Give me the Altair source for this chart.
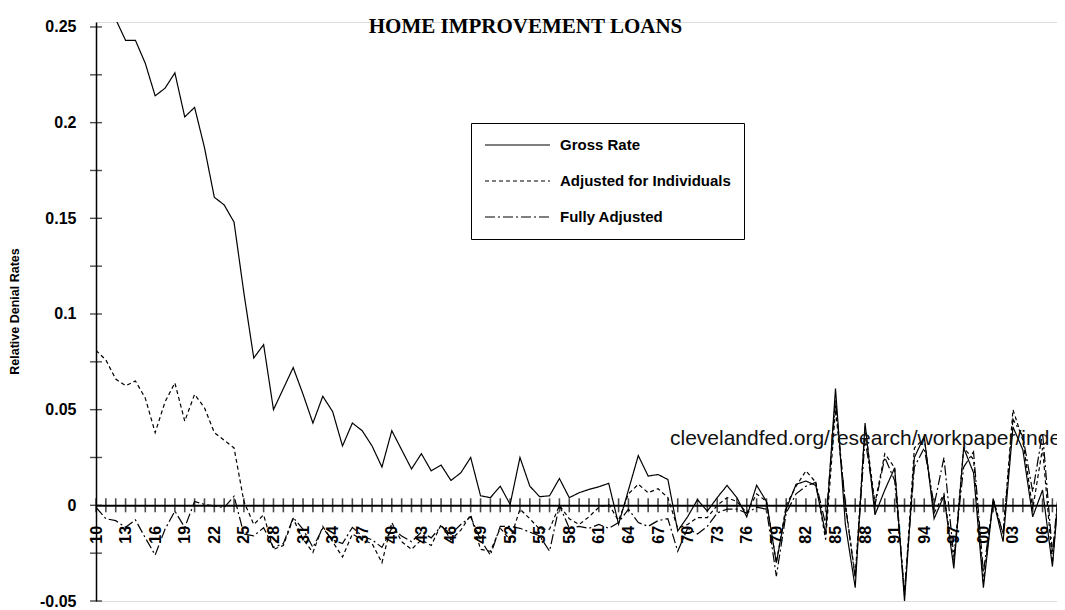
import altair as alt
import pandas as pd

# ---- data ----
x_vals = list(range(10, 109))

gross_rate = [
    0.285, 0.268, 0.254, 0.243, 0.243, 0.231, 0.214, 0.218, 0.226, 0.203,   # 10-19
    0.208, 0.187, 0.161, 0.157, 0.148, 0.111, 0.077, 0.084, 0.050, 0.061,   # 20-29
    0.072, 0.058, 0.043, 0.057, 0.049, 0.031, 0.043, 0.039, 0.031, 0.020,   # 30-39
    0.039, 0.029, 0.019, 0.027, 0.018, 0.021, 0.013, 0.017, 0.025, 0.005,   # 40-49
    0.004, 0.010, 0.0005, 0.025, 0.010, 0.0045, 0.005, 0.014, 0.004, 0.0066,  # 50-59
    0.0083, 0.0097, 0.0115, -0.0099, 0.008, 0.026, 0.0153, 0.0161, 0.0135, -0.0134,  # 60-69
    -0.006, 0.003, -0.003, 0.004, 0.0104, 0.004, -0.006, 0.0105, 0.002, -0.030,  # 70-79
    -0.002, 0.011, 0.0127, 0.0104, -0.015, 0.061, -0.010, -0.043, 0.043, -0.005,  # 80-89
    0.008, 0.0196, -0.050, 0.025, 0.036, -0.007, 0.005, -0.033, 0.030, 0.017,  # 90-99
    -0.043, 0.003, -0.019, 0.041, 0.029, -0.006, 0.008, -0.032, 0.029,          # 100-108
]

adjusted_individuals = [
    0.081, 0.076, 0.066, 0.0625, 0.065, 0.056, 0.038, 0.054, 0.064, 0.044,
    0.058, 0.051, 0.038, 0.034, 0.030, 0.002, -0.010, -0.005, -0.023, -0.021,
    -0.007, -0.0177, -0.0246, -0.011, -0.019, -0.027, -0.015, -0.018, -0.020, -0.030,
    -0.009, -0.019, -0.023, -0.018, -0.021, -0.010, -0.018, -0.013, -0.005, -0.023,
    -0.024, -0.012, -0.018, -0.002, -0.007, -0.0125, -0.0125, 0.0, -0.007, -0.010,
    -0.006, -0.001, 0.0005, -0.008, 0.006, 0.011, 0.0066, 0.0087, 0.004, -0.012,
    -0.010, -0.0064, -0.0064, 0.0, 0.004, 0.002, -0.004, 0.006, 0.002, -0.030,
    0.0, 0.010, 0.018, 0.012, -0.018, 0.050, 0.001, -0.037, 0.041, 0.001,
    0.027, 0.0196, -0.047, 0.030, 0.035, -0.004, 0.006, -0.030, 0.030, 0.024,
    -0.040, 0.003, -0.015, 0.050, 0.034, -0.002, 0.030, -0.030, 0.030,
]

fully_adjusted = [
    -0.001, -0.007, -0.008, -0.0115, -0.0076, -0.017, -0.026, -0.0125, -0.003, -0.0116,
    0.002, 0.0005, -0.0003, -0.0012, 0.0048, -0.015, -0.016, -0.0117, -0.022, -0.020,
    -0.0064, -0.0125, -0.022, -0.012, -0.018, -0.020, -0.0115, -0.016, -0.018, -0.022,
    -0.012, -0.016, -0.019, -0.014, -0.017, -0.011, -0.015, -0.010, -0.006, -0.018,
    -0.026, -0.011, -0.011, -0.012, -0.014, -0.016, -0.024, 0.0, -0.012, -0.011,
    -0.012, -0.010, -0.012, -0.009, -0.002, -0.009, -0.011, -0.008, -0.007, -0.024,
    -0.012, -0.015, -0.011, -0.004, -0.002, -0.002, -0.004, -0.001, -0.002, -0.037,
    -0.004, 0.006, 0.010, 0.012, -0.010, 0.055, 0.0, -0.038, 0.035, 0.0,
    0.025, 0.013, -0.045, 0.020, 0.030, 0.0, 0.025, -0.027, 0.020, 0.028,
    -0.035, 0.003, -0.015, 0.045, 0.036, 0.007, 0.038, -0.025, 0.028,
]

series_names = ["Gross Rate", "Adjusted for Individuals", "Fully Adjusted"]
series_dash = [[1, 0], [4, 3], [10, 3, 2, 3]]

x_tick_positions = list(range(10, 108))
x_label_values = list(range(10, 107, 3))
y_label_values = [-0.05, 0.0, 0.05, 0.1, 0.15, 0.2, 0.25]
y_tick_positions = [round(-0.05 + 0.025 * i, 3) for i in range(13)]

title_text = "HOME IMPROVEMENT LOANS"
y_title = "Relative Denial Rates"
watermark = "clevelandfed.org/research/workpaper/inde"

# ---- layout constants ----
W, H = 961, 579
X_MAX = 10 + W / 9.86
Y_MIN, Y_MAX = -0.05, 0.2526
px_per_unit_y = H / (Y_MAX - Y_MIN)
zero_offset = -(0 - Y_MIN) * px_per_unit_y

FONT = "Liberation Sans"

df = pd.DataFrame({
    "x": x_vals * 3,
    "value": gross_rate + adjusted_individuals + fully_adjusted,
    "series": [series_names[0]] * len(x_vals)
    + [series_names[1]] * len(x_vals)
    + [series_names[2]] * len(x_vals),
})

x_scale = alt.Scale(domain=[10, X_MAX], nice=False, zero=False)
y_scale = alt.Scale(domain=[Y_MIN, Y_MAX], nice=False, zero=False)

x_axis = alt.Axis(
    values=x_label_values,
    offset=zero_offset,
    ticks=False,
    grid=False,
    title=None,
    domainColor="black",
    domainWidth=2,
    labelAngle=270,
    labelAlign="right",
    labelBaseline="middle",
    labelPadding=20,
    labelFont=FONT,
    labelFontSize=16,
    labelFontWeight="bold",
    labelColor="black",
    labelFlush=False,
    labelOverlap=False,
    labelExpr="datum.value >= 100 ? '0' + toString(datum.value - 100) : toString(datum.value)",
)

y_axis = alt.Axis(
    values=y_label_values,
    ticks=False,
    grid=False,
    domainColor="black",
    domainWidth=1.5,
    labelFont=FONT,
    labelFontSize=16,
    labelFontWeight="bold",
    labelColor="black",
    labelPadding=20,
    labelExpr="datum.value == 0 ? '0' : replace(format(datum.value, '.2~f'), '\u2212', '-')",
    title=y_title,
    titleFont=FONT,
    titleFontSize=12.5,
    titleFontWeight="bold",
    titleColor="black",
    titleAngle=270,
    titleX=-82,
    titleY=289,
    titleAlign="center",
    titleBaseline="middle",
)

lines = alt.Chart(df).mark_line(clip=True, color="black", strokeWidth=1.2).encode(
    x=alt.X("x:Q", scale=x_scale, axis=x_axis, title=None),
    y=alt.Y("value:Q", scale=y_scale, axis=y_axis, title=y_title),
    strokeDash=alt.StrokeDash(
        "series:N",
        scale=alt.Scale(domain=series_names, range=series_dash),
        legend=alt.Legend(
            title=None,
            orient="none",
            legendX=375,
            legendY=101,
            direction="vertical",
            symbolType="stroke",
            symbolSize=4225,
            symbolStrokeWidth=1.2,
            symbolStrokeColor="black",
            labelFont=FONT,
            labelFontSize=15,
            labelFontWeight="bold",
            labelColor="black",
            labelOffset=9,
            labelLimit=400,
            padding=13,
            rowPadding=18,
            clipHeight=18,
            strokeColor="black",
            fillColor="white",
            cornerRadius=0,
        ),
    ),
)

x_ticks = alt.Chart(
    pd.DataFrame({"x": x_tick_positions, "value": [0.0] * len(x_tick_positions)})
).mark_tick(orient="vertical", size=14, thickness=1.6, color="black").encode(
    x=alt.X("x:Q", scale=x_scale, axis=x_axis, title=None),
    y=alt.Y("value:Q", scale=y_scale, axis=y_axis, title=y_title),
)

y_ticks = alt.Chart(
    pd.DataFrame({"x": [10] * len(y_tick_positions), "value": y_tick_positions})
).mark_tick(orient="horizontal", size=12, thickness=1.4, color="black").encode(
    x=alt.X("x:Q", scale=x_scale, axis=x_axis, title=None),
    y=alt.Y("value:Q", scale=y_scale, axis=y_axis, title=y_title),
)

wm = alt.Chart(pd.DataFrame({"t": [watermark]})).mark_text(
    align="left", baseline="middle", font=FONT, fontSize=21, color="#111"
).encode(
    x=alt.value(574),
    y=alt.value(417),
    text="t:N",
)

chart = alt.layer(lines, x_ticks, y_ticks, wm).properties(
    width=W,
    height=H,
    padding={"left": 88, "top": 14, "right": 0, "bottom": 10},
    autosize=alt.AutoSizeParams(type="none"),
    title=alt.TitleParams(
        title_text,
        font="Liberation Serif",
        fontSize=21,
        fontWeight="bold",
        color="black",
        anchor="middle",
        dx=-51,
        baseline="alphabetic",
        offset=-35,
    ),
).configure_view(stroke=None).configure(background="white")

chart.save("out.html", embed_options={"renderer": "svg", "actions": False})
